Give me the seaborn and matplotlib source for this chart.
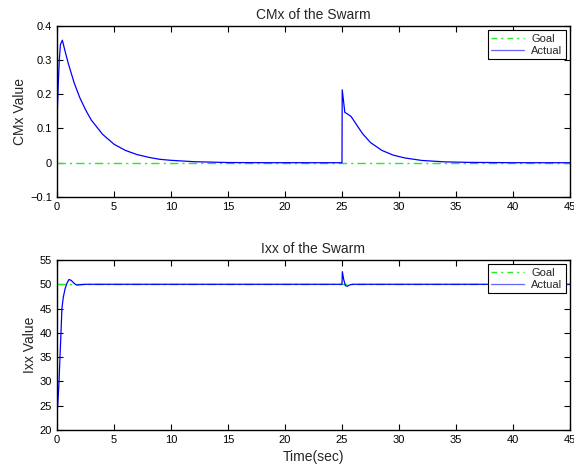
import matplotlib
matplotlib.use('Agg')
import pandas as pd
import seaborn as sns
import matplotlib.pyplot as plt

# =========================
# DATA
# =========================

tempo_cmx = [0, 0.1, 0.2, 0.3, 0.47, 0.7, 1.0, 1.5, 2.0, 2.5, 3.0, 4.0, 5.0,
             6.0, 7.0, 8.0, 9.0, 10.0, 12.0, 15.0, 18.0, 25.0,
             25.02, 25.25, 25.5, 25.8, 26.2, 26.8, 27.5, 28.5, 29.5, 30.5,
             32.0, 34.0, 36.0, 40.0, 45.0]
cmx_atual = [0.12, 0.22, 0.30, 0.345, 0.358, 0.327, 0.289, 0.234, 0.190,
             0.155, 0.125, 0.083, 0.054, 0.036, 0.024, 0.016, 0.010, 0.007,
             0.003, 0.0005, 0.0001, 0.0,
             0.213, 0.147, 0.142, 0.135, 0.115, 0.085, 0.059, 0.036, 0.022,
             0.014, 0.0066, 0.0025, 0.001, 0.0, 0.0]

tempo_ixx = [0, 0.06, 0.18, 0.26, 0.35, 0.43, 0.55, 0.7, 0.85, 1.05, 1.25,
             1.45, 1.7, 2.0, 2.5, 25.0, 25.03, 25.15, 25.3, 25.45, 25.7,
             26.0, 45.0]
ixx_atual = [24.0, 25.0, 30.0, 35.0, 40.0, 45.0, 47.3, 49.0, 50.1, 51.0,
             50.8, 50.3, 49.85, 49.9, 50.0, 50.0, 52.6, 51.0, 49.7, 49.6,
             49.9, 50.0, 50.0]

tempo_meta = [0, 45]
cmx_meta = [0, 0]
ixx_meta = [50, 50]

x_ticks = [0, 5, 10, 15, 20, 25, 30, 35, 40, 45]
cmx_ticks = [-0.1, 0, 0.1, 0.2, 0.3, 0.4]
cmx_labels = ['\u22120.1', '0', '0.1', '0.2', '0.3', '0.4']
ixx_ticks = [20, 25, 30, 35, 40, 45, 50, 55]

# =========================
# ESTILO
# =========================

sns.set_style('ticks')
plt.rcParams['font.family'] = ['Liberation Sans', 'DejaVu Sans']
plt.rcParams['axes.linewidth'] = 1.0

fig = plt.figure(figsize=(5.74, 4.7), dpi=100)
ax1 = fig.add_axes([0.0993, 0.581, 0.8937, 0.364])
ax2 = fig.add_axes([0.0993, 0.0851, 0.8937, 0.3617])


def montar(ax, t, y, y_meta, yticks, ylim, titulo, ylabel):
    sns.lineplot(x=tempo_meta, y=y_meta, ax=ax, color='#22ee22',
                 linewidth=1.0, label='Goal', dashes=False)
    ax.lines[-1].set_dashes([6, 3, 1.5, 3])
    sns.lineplot(x=t, y=y, ax=ax, color='#0000ff', linewidth=0.9,
                 label='Actual', estimator=None, sort=False)
    ax.set_xlim(0, 45)
    ax.set_ylim(*ylim)
    ax.set_xticks(x_ticks)
    ax.set_yticks(yticks)
    ax.tick_params(direction='in', top=True, right=True, length=4,
                   width=0.8, labelsize=8, colors='black')
    for s in ax.spines.values():
        s.set_visible(True)
        s.set_color('black')
    ax.set_title(titulo, fontsize=10, pad=5)
    ax.set_ylabel(ylabel, fontsize=10, labelpad=2)
    leg = ax.legend(loc='upper right', fontsize=8, frameon=True,
                    fancybox=False, edgecolor='black', framealpha=1,
                    handlelength=3.0, borderpad=0.3, labelspacing=0.2,
                    handletextpad=0.6, borderaxespad=0.4)
    leg.get_frame().set_linewidth(0.8)
    leg.get_lines()[0].set_dashes([4, 3, 1.5, 3])
    leg.get_lines()[1].set_color('#6666ff')


montar(ax1, tempo_cmx, cmx_atual, cmx_meta, cmx_ticks, (-0.1, 0.4),
       'CMx of the Swarm', 'CMx Value')
ax1.set_yticklabels(cmx_labels)
montar(ax2, tempo_ixx, ixx_atual, ixx_meta, ixx_ticks, (20, 55),
       'Ixx of the Swarm', 'Ixx Value')
ax2.set_xlabel('Time(sec)', fontsize=10, labelpad=4)

plt.savefig('out.png', dpi=100)
